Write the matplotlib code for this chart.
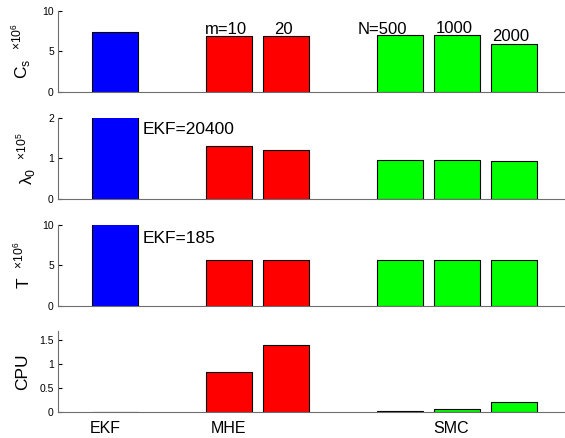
import matplotlib
matplotlib.use("Agg")
import matplotlib.pyplot as plt

plt.rcParams['font.family'] = ['Liberation Sans', 'DejaVu Sans']
plt.rcParams['mathtext.fontset'] = 'custom'
plt.rcParams['mathtext.rm'] = 'Liberation Sans'
plt.rcParams['mathtext.it'] = 'Liberation Sans'

# data (EKF values above the axis are clipped)
methods = ['EKF', 'MHE', 'SMC']
bar_colors = ['blue', 'red', 'red', 'lime', 'lime', 'lime']
cs_vals = [7.35, 6.9, 6.9, 6.95, 6.95, 5.85]          # x 1e6
lam0_vals = [20400, 1.3, 1.2, 0.96, 0.95, 0.94]       # x 1e5
t_vals = [185, 5.7, 5.7, 5.7, 5.65, 5.7]              # x 1e6
cpu_vals = [0.005, 0.84, 1.4, 0.015, 0.057, 0.215]
mhe_labels = ['m=10', '20']
smc_labels = ['N=500', '1000', '2000']

x_pos = [0, 2, 3, 5, 6, 7]
spine_col = '#6e6e6e'

fig = plt.figure(figsize=(5.65, 4.38), dpi=100)

# [bottom, height] of each panel in figure fraction
panels = [
    (cs_vals, (0, 10), [0, 5, 10], r'C$_{s}$  $^{\times 10^{6}}$', 0.790),
    (lam0_vals, (0, 2), [0, 1, 2], r'$\lambda_{0}$  $^{\times 10^{5}}$', 0.5457),
    (t_vals, (0, 10), [0, 5, 10], r'T  $^{\times 10^{6}}$', 0.3014),
    (cpu_vals, (0, 1.7), [0, 0.5, 1, 1.5], 'CPU', 0.0594),
]

axes = []
for vals, ylim, yticks, ylab, bottom in panels:
    ax = fig.add_axes([0.1027, bottom, 0.8973, 0.186])
    ax.bar(x_pos, vals, width=0.8, color=bar_colors, edgecolor='black', linewidth=0.8)
    ax.set_xlim(-1, 7.9)
    ax.set_ylim(*ylim)
    ax.set_yticks(yticks)
    ax.set_yticklabels([f'{t:g}' for t in yticks])
    ax.set_xticks([])
    ax.spines['top'].set_visible(False)
    ax.spines['right'].set_visible(False)
    ax.spines['left'].set_color(spine_col)
    ax.spines['bottom'].set_color(spine_col)
    ax.tick_params(axis='y', direction='in', length=3, width=0.8, color='black',
                   labelsize=7.5, pad=3)
    ax.set_ylabel(ylab, fontsize=12.5, labelpad=7)
    axes.append(ax)

# annotations on top panel
ax = axes[0]
for xp, lab in zip(x_pos[1:3], mhe_labels):
    ax.text(xp - 0.05, 7.1, lab, ha='center', va='baseline', fontsize=12)
smc_y = [7.15, 7.2, 6.3]
for xp, lab, yy in zip(x_pos[3:], smc_labels, smc_y):
    ax.text(xp - 0.3 if lab.startswith('N') else xp - 0.05, yy, lab, ha='center',
            va='baseline', fontsize=12)

axes[1].text(0.49, 1.6, 'EKF=%d' % lam0_vals[0], ha='left', va='baseline', fontsize=12.5)
axes[2].text(0.49, 7.7, 'EKF=%d' % t_vals[0], ha='left', va='baseline', fontsize=12.5)

# group labels under bottom panel
group_x = [-0.17, 2.0, 5.9]
for gx, m in zip(group_x, methods):
    axes[3].text(gx, -0.43, m, ha='center', va='baseline', fontsize=11.5, clip_on=False)

fig.savefig('out.png', dpi=100)
